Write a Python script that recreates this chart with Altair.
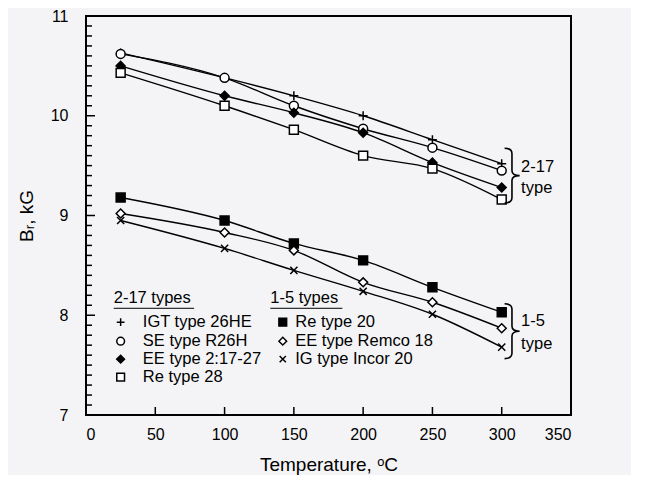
import altair as alt
import pandas as pd

# ---- data ----
series_names = ["IGT type 26HE", "SE type R26H", "EE type 2:17-27", "Re type 28",
                "Re type 20", "EE type Remco 18", "IG type Incor 20"]
temps_full = [25, 100, 150, 200, 250, 300]
temps_igt = [25, 150, 200, 250, 300]

igt_26he = [10.63, 10.20, 10.00, 9.76, 9.52]
se_r26h = [10.62, 10.38, 10.10, 9.87, 9.68, 9.45]
ee_21727 = [10.50, 10.20, 10.03, 9.83, 9.53, 9.28]
re_28 = [10.43, 10.10, 9.86, 9.60, 9.47, 9.16]
re_20 = [9.18, 8.95, 8.72, 8.55, 8.28, 8.03]
ee_remco18 = [9.02, 8.83, 8.65, 8.33, 8.13, 7.87]
ig_incor20 = [8.95, 8.67, 8.45, 8.24, 8.01, 7.68]

series_shapes = ["M-1,0L1,0M0,-1L0,1", "circle", "diamond", "square",
                 "square", "diamond", "M-0.8,-0.8L0.8,0.8M-0.8,0.8L0.8,-0.8"]
series_fills = ["white", "white", "black", "white", "black", "white", "white"]

x_ticks = [0, 50, 100, 150, 200, 250, 300, 350]
y_ticks = [7, 8, 9, 10, 11]

rows = []
for name, ts, vals in [
    (series_names[0], temps_igt, igt_26he),
    (series_names[1], temps_full, se_r26h),
    (series_names[2], temps_full, ee_21727),
    (series_names[3], temps_full, re_28),
    (series_names[4], temps_full, re_20),
    (series_names[5], temps_full, ee_remco18),
    (series_names[6], temps_full, ig_incor20),
]:
    for t, v in zip(ts, vals):
        rows.append({"series": name, "T": t, "B": v})
df = pd.DataFrame(rows)

# legend layout (data coords)
leg_rows_y = [7.93, 7.74, 7.56, 7.38]
leg_df = pd.DataFrame(
    [{"series": series_names[i], "sx": 25, "tx": 41, "ly": leg_rows_y[i]} for i in range(4)]
    + [{"series": series_names[4 + i], "sx": 142, "tx": 151, "ly": leg_rows_y[i]} for i in range(3)]
)
leg_titles = pd.DataFrame([
    {"label": "2-17 types", "tx": 20, "ly": 8.17, "ux1": 20, "ux2": 78},
    {"label": "1-5 types", "tx": 133, "ly": 8.17, "ux1": 133, "ux2": 185},
])
brace_df = pd.DataFrame([
    {"x": 307, "y": 9.40},
    {"x": 307, "y": 7.84},
])
brace_txt = pd.DataFrame([
    {"x": 314, "y": 9.49, "t": "2-17"},
    {"x": 314, "y": 9.28, "t": "type"},
    {"x": 314, "y": 7.94, "t": "1-5"},
    {"x": 314, "y": 7.71, "t": "type"},
])

minor_y = [round(7 + i * 0.1, 1) for i in range(1, 40) if i % 10 != 0]
ytick_minor = pd.DataFrame({"v": minor_y})
ytick_major = pd.DataFrame({"v": y_ticks[1:-1]})
xtick_df = pd.DataFrame({"v": x_ticks[1:-1]})

W, H = 485, 399
FONT = "Liberation Sans"
BRACE_PATH = ("M-0.25,-1 Q0.02,-1 0.02,-0.8 L0.02,-0.18 Q0.02,0 0.3,0 "
              "Q0.02,0 0.02,0.18 L0.02,0.8 Q0.02,1 -0.25,1")

xscale = alt.Scale(domain=[0, 350], nice=False, zero=False)
yscale = alt.Scale(domain=[7, 11], nice=False, zero=False)

xaxis = alt.Axis(values=x_ticks, ticks=False, domain=False, grid=False, format="d",
                 labelFontSize=16, labelPadding=11, labelColor="black", labelFont=FONT,
                 title="Temperature, \u1d52C", titleFontSize=19, titleFontWeight="normal",
                 titleFont=FONT, titleColor="black", titlePadding=13)
yaxis = alt.Axis(values=y_ticks, ticks=False, domain=False, grid=False, format="d",
                 labelFontSize=16, labelPadding=18, labelColor="black", labelFont=FONT,
                 title="B\u1d63,  kG", titleFontSize=19, titleFontWeight="normal",
                 titleFont=FONT, titleColor="black", titlePadding=14)

X = alt.X("T:Q", scale=xscale, axis=xaxis)
Y = alt.Y("B:Q", scale=yscale, axis=yaxis)

shape_scale = alt.Scale(domain=series_names, range=series_shapes)
fill_scale = alt.Scale(domain=series_names, range=series_fills)

lines = alt.Chart(df).mark_line(color="black", strokeWidth=1.4, interpolate="monotone").encode(
    x=X, y=Y, detail="series:N")

points = alt.Chart(df).mark_point(filled=True, stroke="black", strokeWidth=1.5, opacity=1, size=80).encode(
    x="T:Q", y="B:Q",
    shape=alt.Shape("series:N", scale=shape_scale, legend=None),
    fill=alt.Fill("series:N", scale=fill_scale, legend=None))

leg_pts = alt.Chart(leg_df).mark_point(filled=True, stroke="black", strokeWidth=1.5, opacity=1, size=60).encode(
    x="sx:Q", y="ly:Q",
    shape=alt.Shape("series:N", scale=shape_scale, legend=None),
    fill=alt.Fill("series:N", scale=fill_scale, legend=None))

leg_txt = alt.Chart(leg_df).mark_text(align="left", baseline="middle", fontSize=16.5, font=FONT, color="black").encode(
    x="tx:Q", y="ly:Q", text="series:N")

title_txt = alt.Chart(leg_titles).mark_text(align="left", baseline="middle", fontSize=16.5, font=FONT, color="black").encode(
    x="tx:Q", y="ly:Q", text="label:N")

underline = alt.Chart(leg_titles).mark_rule(color="black", strokeWidth=1).encode(
    x="ux1:Q", x2="ux2:Q", y=alt.Y("ly:Q"), yOffset=alt.value(10))

braces = alt.Chart(brace_df).mark_point(shape=BRACE_PATH, size=3000, filled=False,
                                        stroke="black", strokeWidth=1.6, opacity=1).encode(
    x="x:Q", y="y:Q")

brace_labels = alt.Chart(brace_txt).mark_text(align="left", baseline="middle", fontSize=16.5, font=FONT, color="black").encode(
    x="x:Q", y="y:Q", text="t:N")

ymin_rules = alt.Chart(ytick_minor).mark_rule(color="black", strokeWidth=1.5).encode(
    y="v:Q", x=alt.value(0), x2=alt.value(6))
ymaj_rules = alt.Chart(ytick_major).mark_rule(color="black", strokeWidth=1.5).encode(
    y="v:Q", x=alt.value(0), x2=alt.value(9))
x_rules = alt.Chart(xtick_df).mark_rule(color="black", strokeWidth=1.5).encode(
    x="v:Q", y=alt.value(H), y2=alt.value(H - 8))

chart = alt.layer(
    lines, points, ymin_rules, ymaj_rules, x_rules,
    leg_pts, leg_txt, title_txt, underline, braces, brace_labels
).properties(
    width=W, height=H,
    autosize=alt.AutoSizeParams(type="none"),
    padding={"left": 78, "top": 8, "right": 60, "bottom": 60},
    background="#f4f4f6",
).configure_view(stroke="black", strokeWidth=2)

chart.save("out.html", embed_options={"renderer": "svg", "actions": False})
